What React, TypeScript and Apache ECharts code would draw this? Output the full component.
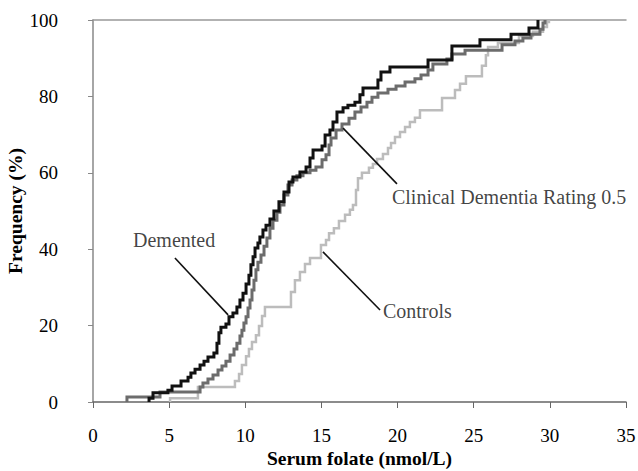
import React, { useEffect, useRef } from "react";
import * as echarts from "echarts";

const xTicks = [0, 5, 10, 15, 20, 25, 30, 35];
const yTicks = [0, 20, 40, 60, 80, 100];

// Demented (black) – jump positions (nmol/L) and cumulative frequency (%)
const dementedX = [3.68, 3.68, 3.94, 4.92, 5.19, 5.78, 6.24, 6.43, 6.7, 7.03, 7.29, 7.55, 7.94, 8.14, 8.27, 8.4, 8.73, 8.93, 9.19, 9.45, 9.65, 9.85, 10.05, 10.24, 10.37, 10.51, 10.64, 10.83, 10.96, 11.16, 11.36, 11.62, 11.88, 12.21, 12.54, 12.87, 13.13, 13.59, 13.99, 14.25, 14.45, 15.04, 15.24, 15.56, 15.76, 16.02, 16.42, 16.74, 17.2, 17.53, 17.73, 18.71, 18.91, 19.5, 22.0, 23.57, 25.41, 27.45, 28.63, 29.22];
const dementedY = [0, 1.0, 2.4, 3.1, 4.2, 5.5, 6.5, 7.6, 8.6, 9.7, 10.7, 11.8, 12.8, 15.4, 18.1, 19.6, 20.4, 22.3, 23.3, 24.9, 26.7, 28.5, 30.9, 33.2, 35.9, 38.0, 40.3, 41.6, 43.2, 45.0, 46.3, 47.9, 50.0, 52.4, 55.0, 57.6, 58.9, 60.2, 61.5, 63.9, 66.0, 67.0, 69.9, 71.2, 73.3, 75.9, 77.0, 77.7, 78.5, 80.4, 82.2, 84.3, 86.4, 87.7, 89.5, 93.2, 94.8, 96.3, 97.9, 100];

// Clinical Dementia Rating 0.5 (dark grey)
const cdrX = [2.23, 2.23, 4.4, 7.03, 7.22, 7.55, 7.88, 8.21, 8.47, 8.73, 9.0, 9.26, 9.45, 9.65, 9.78, 9.91, 10.05, 10.18, 10.31, 10.44, 10.57, 10.7, 10.83, 11.03, 11.23, 11.42, 11.62, 11.82, 12.08, 12.28, 12.54, 12.8, 13.07, 13.39, 13.79, 14.25, 14.64, 15.04, 15.3, 15.5, 15.63, 15.96, 16.35, 16.81, 17.2, 17.6, 17.99, 18.32, 18.71, 19.37, 19.9, 20.49, 21.14, 21.54, 22.0, 22.32, 23.24, 23.57, 24.43, 26.86, 27.71, 28.23, 28.76, 29.35, 29.55, 29.68];
const cdrY = [0, 1.3, 2.6, 3.9, 5.0, 6.0, 7.1, 8.4, 9.4, 10.7, 12.3, 13.9, 15.4, 17.3, 18.8, 20.7, 22.3, 24.6, 26.7, 29.3, 31.9, 34.6, 36.6, 38.5, 40.8, 42.9, 45.5, 47.6, 49.7, 51.6, 54.2, 56.8, 58.1, 59.2, 60.0, 60.7, 61.5, 63.4, 64.7, 67.3, 69.1, 71.2, 72.8, 74.3, 75.9, 77.2, 78.5, 79.8, 80.9, 81.9, 82.7, 83.8, 84.6, 85.6, 86.9, 88.5, 89.8, 91.1, 92.1, 93.5, 94.5, 95.3, 96.3, 97.6, 99.2, 100];

// Controls (light grey)
const controlsX = [5.06, 5.06, 6.89, 9.32, 9.59, 9.78, 10.05, 10.24, 10.44, 10.7, 10.9, 11.1, 11.29, 13.0, 13.26, 13.59, 13.92, 14.25, 14.97, 15.3, 15.5, 15.82, 16.15, 16.55, 16.87, 17.07, 17.27, 17.4, 17.66, 18.12, 18.38, 18.65, 19.04, 19.37, 19.57, 19.83, 20.16, 20.49, 20.81, 21.14, 21.47, 22.92, 23.77, 24.1, 24.49, 25.54, 25.8, 25.94, 26.59, 27.97, 28.89, 29.55, 29.81, 29.94];
const controlsY = [0, 1.0, 3.9, 5.5, 7.3, 9.7, 12.0, 13.9, 15.7, 17.5, 19.9, 22.5, 24.9, 28.8, 31.9, 34.0, 36.1, 37.7, 41.1, 42.4, 44.2, 45.5, 47.4, 49.0, 50.3, 51.6, 55.5, 58.6, 60.0, 61.3, 62.3, 63.6, 64.9, 66.5, 67.8, 69.4, 70.7, 72.0, 73.3, 74.4, 76.4, 79.6, 81.7, 83.3, 85.3, 88.0, 90.8, 92.9, 94.0, 95.8, 96.9, 98.2, 99.5, 100];

// Annotation labels (anchor in data units) and leader lines
const labelNames = ["Demented", "Clinical Dementia Rating 0.5", "Controls"];
const labelAnchors = [[2.63, 42.4], [19.63, 53.7], [19.04, 23.8]];
const leaderLines = [
  [[5.38, 37.7], [8.87, 22.8]],
  [[16.42, 71.7], [19.96, 57.1]],
  [[15.1, 39.3], [18.85, 24.1]],
];

const zip = (xs: number[], ys: number[]) => xs.map((x, i) => [x, ys[i]]);

const FONT = "'Liberation Serif', 'Times New Roman', serif";

export default function App() {
  const ref = useRef<HTMLDivElement>(null);
  useEffect(() => {
    if (!ref.current) return;
    const chart = echarts.init(ref.current, null, { renderer: "svg" });
    const stepSeries = (name: string, data: number[][], color: string, width: number, z: number) => ({
      name,
      type: "line",
      step: "end",
      data,
      showSymbol: false,
      symbol: "none",
      z,
      lineStyle: { color, width, join: "miter" },
      xAxisIndex: 0,
      yAxisIndex: 0,
    });
    chart.setOption({
      animation: false,
      backgroundColor: "#ffffff",
      grid: { left: 93, right: 12, top: 20, bottom: 69, containLabel: false, outerBoundsMode: "none" },
      xAxis: [
        {
          type: "value",
          min: 0,
          max: 35,
          interval: 5,
          name: "Serum folate (nmol/L)",
          nameLocation: "middle",
          nameGap: 46,
          nameMoveOverlap: false,
          nameTextStyle: { fontFamily: FONT, fontSize: 19.5, fontWeight: "bold", color: "#000", lineHeight: 20 },
          axisLine: { show: true, lineStyle: { color: "#666", width: 1.5 } },
          axisTick: { show: true, inside: false, length: 6, lineStyle: { color: "#666" } },
          axisLabel: { fontFamily: FONT, fontSize: 19, color: "#000", margin: 24, formatter: (v: number) => (xTicks.includes(v) ? String(v) : "") },
          splitLine: { show: false },
        },
        {
          type: "value",
          position: "top",
          min: 0,
          max: 35,
          axisLine: { show: true, lineStyle: { color: "#999", width: 1.5 } },
          axisTick: { show: false },
          axisLabel: { show: false },
          splitLine: { show: false },
        },
      ],
      yAxis: {
        type: "value",
        min: 0,
        max: 100,
        interval: 20,
        name: "Frequency (%)",
        nameLocation: "middle",
        nameGap: 68,
        nameMoveOverlap: false,
        nameTextStyle: { fontFamily: FONT, fontSize: 19.5, fontWeight: "bold", color: "#000", lineHeight: 20 },
        axisLine: { show: true, lineStyle: { color: "#888", width: 1.5 } },
        axisTick: { show: true, inside: false, length: 5, lineStyle: { color: "#888" } },
        axisLabel: { fontFamily: FONT, fontSize: 19, color: "#000", margin: 35, formatter: (v: number) => (yTicks.includes(v) ? String(v) : "") },
        splitLine: { show: false },
      },
      series: [
        stepSeries("Controls", zip(controlsX, controlsY), "#bcbcbc", 2.5, 2),
        stepSeries("Clinical Dementia Rating 0.5", zip(cdrX, cdrY), "#6c6c6c", 3, 3),
        stepSeries("Demented", zip(dementedX, dementedY), "#111111", 3, 4),
        {
          name: "annotations",
          type: "scatter",
          symbolSize: 0,
          z: 5,
          data: labelNames.map((n, i) => ({ name: n, value: labelAnchors[i] })),
          label: {
            show: true,
            position: "right",
            distance: 0,
            formatter: (p: any) => p.name,
            fontFamily: FONT,
            fontSize: 20,
            color: "#111",
          },
          markLine: {
            silent: true,
            symbol: ["none", "none"],
            label: { show: false },
            lineStyle: { color: "#111", width: 1.6, type: "solid" },
            data: leaderLines.map(([a, b]) => [{ coord: a }, { coord: b }]),
          },
        },
      ],
    });
    return () => chart.dispose();
  }, []);
  return <div ref={ref} style={{ position: "fixed", left: 0, top: 0, width: 638, height: 471, background: "#fff" }} />;
}
